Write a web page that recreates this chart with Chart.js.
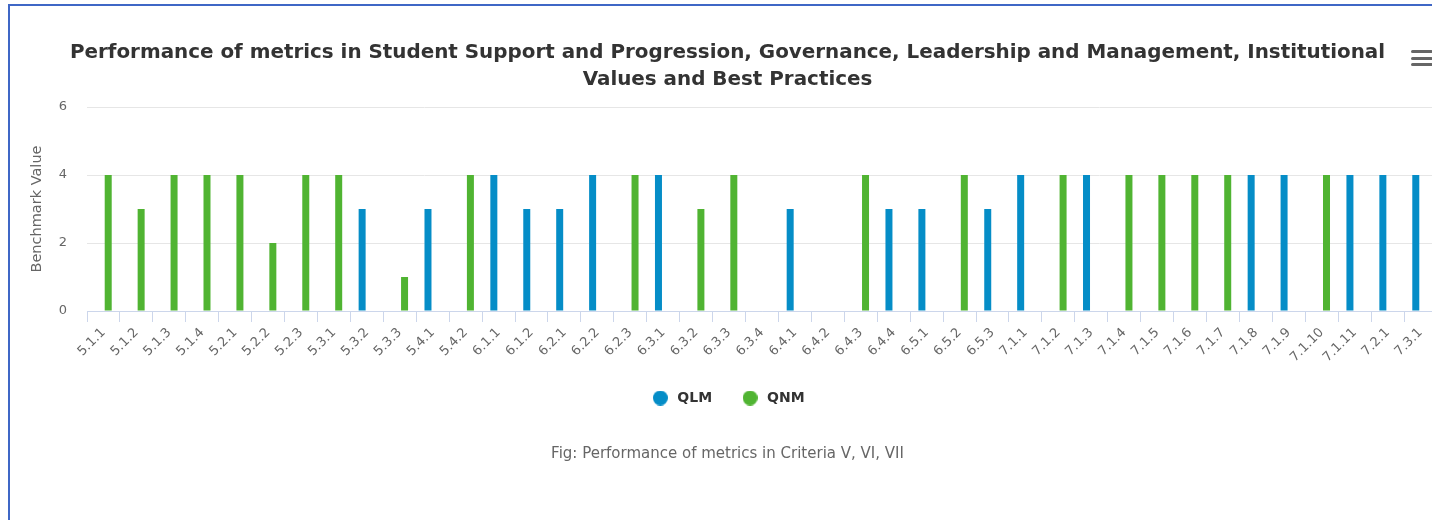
<!DOCTYPE html>
<html>
<head>
<meta charset="utf-8">
<script src="https://cdn.jsdelivr.net/npm/chart.js@4"></script>
<style>
    html, body { margin: 0; padding: 0; overflow: hidden; background: #fff; }
    .frame {
        position: absolute; left: 8px; top: 4px; width: 1500px; height: 600px;
        border-top: 2px solid #3f67c6; border-left: 2px solid #3f67c6;
    }
    .chart-box { position: absolute; left: 10px; top: 6px; width: 1435px; height: 500px; }
    .menu { position: absolute; left: 1411px; top: 50px; width: 22px; }
    .menu span { display: block; height: 3px; margin-bottom: 3.5px; background: #666; border-radius: 2px; }
</style>
</head>
<body>
<div class="frame"></div>
<div class="chart-box"><canvas id="metricsChart"></canvas></div>
<div class="menu"><span></span><span></span><span></span></div>

<script>
const metricLabels = ['5.1.1', '5.1.2', '5.1.3', '5.1.4', '5.2.1', '5.2.2', '5.2.3', '5.3.1', '5.3.2', '5.3.3',
    '5.4.1', '5.4.2', '6.1.1', '6.1.2', '6.2.1', '6.2.2', '6.2.3', '6.3.1', '6.3.2', '6.3.3', '6.3.4',
    '6.4.1', '6.4.2', '6.4.3', '6.4.4', '6.5.1', '6.5.2', '6.5.3', '7.1.1', '7.1.2', '7.1.3', '7.1.4',
    '7.1.5', '7.1.6', '7.1.7', '7.1.8', '7.1.9', '7.1.10', '7.1.11', '7.2.1', '7.3.1'];

// qualitative metrics
const qlmValues = [null, null, null, null, null, null, null, null, 3, null,
    3, null, 4, 3, 3, 4, null, 4, null, null, null,
    3, null, null, 3, 3, null, 3, 4, null, 4, null,
    null, null, null, 4, 4, null, 4, 4, 4];

// quantitative metrics
const qnmValues = [4, 3, 4, 4, 4, 2, 4, 4, null, 1,
    null, 4, null, null, null, null, 4, null, 3, 4, null,
    null, null, 4, null, null, 4, null, null, 4, null, 4,
    4, 4, 4, null, null, 4, null, null, null];

const yTicks = [0, 2, 4, 6];

const seriesColors = ['#058DC7', '#50B432'];
const fontFamily = '"DejaVu Sans", sans-serif';

// round legend markers, drawn once per series
function makeDot(color) {
    const c = document.createElement('canvas');
    c.width = 15;
    c.height = 15;
    const g = c.getContext('2d');
    g.fillStyle = color;
    g.beginPath();
    g.arc(7.5, 7.5, 7.5, 0, Math.PI * 2);
    g.fill();
    return c;
}
const legendDots = seriesColors.map(makeDot);

const data = {
    labels: metricLabels,
    datasets: [{
        label: 'QLM',
        data: qlmValues,
        backgroundColor: seriesColors[0],
        categoryPercentage: 0.577,
        barPercentage: 0.737
    }, {
        label: 'QNM',
        data: qnmValues,
        backgroundColor: seriesColors[1],
        categoryPercentage: 0.577,
        barPercentage: 0.737
    }]
};

const config = {
    type: 'bar',
    data: data,
    options: {
        responsive: true,
        maintainAspectRatio: false,
        animation: false,
        layout: {
            padding: { left: 8, right: 8, top: 0, bottom: 0 }
        },
        scales: {
            x: {
                border: { color: '#ccd6eb' },
                grid: {
                    drawOnChartArea: false,
                    color: '#ccd6eb',
                    tickLength: 11
                },
                ticks: {
                    autoSkip: false,
                    maxRotation: 45,
                    minRotation: 45,
                    color: '#666666',
                    padding: 3,
                    font: { family: fontFamily, size: 13 }
                },
                afterFit: function(scale) { scale.height = 52; }
            },
            y: {
                min: 0,
                max: 6,
                afterBuildTicks: function(scale) {
                    scale.ticks = yTicks.map(v => ({ value: v }));
                },
                border: { display: false },
                grid: { color: '#e6e6e6', drawTicks: false },
                ticks: {
                    color: '#666666',
                    padding: 20,
                    font: { family: fontFamily, size: 13 }
                },
                title: {
                    display: true,
                    text: 'Benchmark Value',
                    color: '#666666',
                    padding: { top: 10.6, bottom: 0 },
                    font: { family: fontFamily, size: 14.5 }
                },
                afterFit: function(scale) { scale.width = 69; }
            }
        },
        plugins: {
            title: {
                display: true,
                text: ['Performance of metrics in Student Support and Progression, Governance, Leadership and Management, Institutional',
                    'Values and Best Practices'],
                color: '#333333',
                padding: { top: 33.5, bottom: 13.5 },
                font: { family: fontFamily, size: 19.9, weight: 'bold', lineHeight: 1.357 }
            },
            subtitle: {
                display: true,
                position: 'bottom',
                text: 'Fig: Performance of metrics in Criteria V, VI, VII',
                color: '#666666',
                padding: { top: 30, bottom: 43 },
                font: { family: fontFamily, size: 15 }
            },
            legend: {
                position: 'bottom',
                labels: {
                    usePointStyle: true,
                    pointStyleWidth: 20,
                    boxHeight: 14,
                    padding: 28,
                    color: '#333333',
                    font: { family: fontFamily, size: 14, weight: 'bold' },
                    generateLabels: function(chart) {
                        const items = Chart.defaults.plugins.legend.labels.generateLabels(chart);
                        return items.map(item => Object.assign(item, { pointStyle: legendDots[item.datasetIndex] }));
                    }
                }
            },
            tooltip: { enabled: false }
        }
    }
};

const ctx = document.getElementById('metricsChart').getContext('2d');
const metricsChart = new Chart(ctx, config);
</script>
</body>
</html>
